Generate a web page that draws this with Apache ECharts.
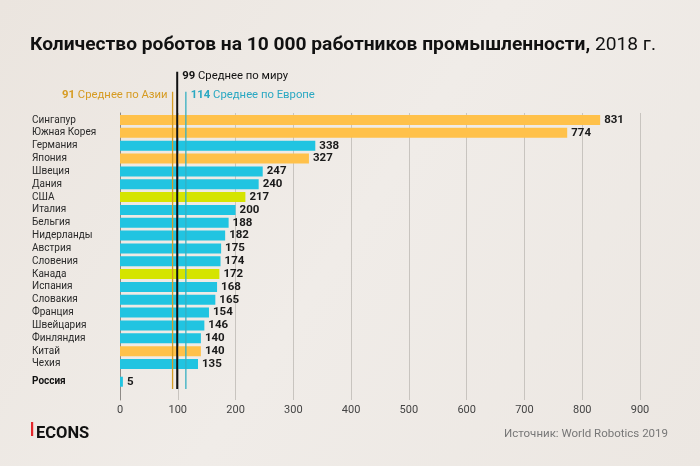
<!DOCTYPE html>
<html>
<head>
<meta charset="utf-8">
<script src="https://cdn.jsdelivr.net/npm/echarts@6/dist/echarts.min.js"></script>
<style>
html,body{margin:0;padding:0;background:#eee9e4;}
#c{width:700px;height:466px;}
</style>
</head>
<body>
<div id="c"></div>
<script>
const categories = ['Сингапур','Южная Корея','Германия','Япония','Швеция','Дания','США','Италия','Бельгия','Нидерланды','Австрия','Словения','Канада','Испания','Словакия','Франция','Швейцария','Финляндия','Китай','Чехия'];
const values = [831,774,338,327,247,240,217,200,188,182,175,174,172,168,165,154,146,140,140,135];
const regions = ['asia','asia','europe','asia','europe','europe','america','europe','europe','europe','europe','europe','america','europe','europe','europe','europe','europe','asia','europe'];
const russiaCategory = ['Россия'];
const russiaValues = [5];
const avgLabels = ['Среднее по Азии','Среднее по миру','Среднее по Европе'];
const avgValues = [91, 99, 114];
const xMin = 0, xMax = 900, xInterval = 100;

const regionColors = {asia:'#ffc14a', europe:'#21c4e1', america:'#d5e400'};
const avgColors = ['#d69b22','#111111','#35afc2'];
const avgTextColors = ['#d69b22','#111111','#2aa8c2'];
const FONT = 'Roboto, "Noto Sans", sans-serif';

const chart = echarts.init(document.getElementById('c'));

const valueLabel = {show:true, position:'right', distance:4, color:'#1a1a1a', fontWeight:'bold', fontSize:11.5, fontFamily:FONT};

function avgSeries(i, topFrac, labelPos, offset){
  return {
    type:'line', xAxisIndex:3, yAxisIndex:3, z:10,
    symbol:'circle', symbolSize:0, showSymbol:true,
    lineStyle:{color:avgColors[i], width: i===1 ? 2 : 1.3},
    silent:true, animation:false,
    data:[
      {value:[avgValues[i], topFrac], label:{
        show:true, position:labelPos, distance:5, offset:offset,
        formatter:'{b|' + avgValues[i] + '} ' + avgLabels[i],
        color:avgTextColors[i], fontSize:11.3, fontFamily:FONT,
        rich:{b:{fontWeight:'bold', fontSize:11.3, color:avgTextColors[i], fontFamily:FONT}}
      }},
      {value:[avgValues[i], 0], label:{show:false}}
    ]
  };
}

chart.setOption({
  backgroundColor:{type:'linear', x:0, y:0, x2:1, y2:1, colorStops:[{offset:0,color:'#ebe5df'},{offset:0.5,color:'#f0ece8'},{offset:1,color:'#ece7e2'}]},
  animation:false,
  textStyle:{fontFamily:FONT},
  title:[
    {text:'{b|Количество роботов на 10 000 работников промышленности,} 2018 г.', left:25, top:31,
     textStyle:{fontSize:19.2, fontWeight:'normal', color:'#111', fontFamily:FONT, rich:{b:{fontSize:19.2, fontWeight:'bold', color:'#111', fontFamily:FONT}}}},
    {text:'ECONS', left:31, top:420, textStyle:{fontSize:16.5, fontWeight:'bold', color:'#111', fontFamily:FONT}},
    {text:'Источник: World Robotics 2019', right:27, top:423, textStyle:{fontSize:11.5, fontWeight:'normal', color:'#777', fontFamily:FONT}}
  ],
  graphic:[{type:'rect', shape:{x:31, y:422, width:2.2, height:14}, style:{fill:'#e3262b'}}],
  grid:[
    {left:120, right:60, top:113, bottom:66},
    {left:120, right:60, top:113.6, height:256.8},
    {left:120, right:60, top:375.3, height:12.84},
    {left:120, right:60, top:71.7, bottom:77}
  ],
  xAxis:[
    {gridIndex:0, type:'value', min:xMin, max:xMax, interval:xInterval,
     axisLine:{show:false}, axisTick:{show:false},
     splitLine:{show:true, lineStyle:{color:'#c8c4bf', width:1}},
     axisLabel:{color:'#444', fontSize:11, margin:5, fontFamily:FONT}},
    {gridIndex:1, type:'value', min:xMin, max:xMax, show:false},
    {gridIndex:2, type:'value', min:xMin, max:xMax, show:false},
    {gridIndex:3, type:'value', min:xMin, max:xMax, show:false}
  ],
  yAxis:[
    {gridIndex:0, type:'value', min:0, max:1, axisLabel:{show:false}, splitLine:{show:false}, axisTick:{show:false},
     axisLine:{show:true, lineStyle:{color:'#8e8a86', width:1}}},
    {gridIndex:1, type:'category', data:categories, inverse:true,
     axisLine:{show:false}, axisTick:{show:false},
     axisLabel:{interval:0, align:'left', margin:88, color:'#2a2a2a', fontSize:10, fontFamily:FONT}},
    {gridIndex:2, type:'category', data:russiaCategory,
     axisLine:{show:false}, axisTick:{show:false},
     axisLabel:{interval:0, align:'left', margin:88, color:'#111', fontSize:10, fontWeight:'bold', fontFamily:FONT}},
    {gridIndex:3, type:'value', min:0, max:1, show:false}
  ],
  series:[
    {type:'bar', xAxisIndex:1, yAxisIndex:1, barWidth:10, z:2,
     data:values.map((v,i)=>({value:v, itemStyle:{color:regionColors[regions[i]]}})),
     label:valueLabel},
    {type:'bar', xAxisIndex:2, yAxisIndex:2, barWidth:10, z:2,
     data:russiaValues.map(v=>({value:v, itemStyle:{color:regionColors.europe}})),
     label:valueLabel},
    avgSeries(0, 0.937, 'left', [0,3]),
    avgSeries(1, 1, 'right', [0,4]),
    avgSeries(2, 0.937, 'right', [0,3])
  ]
});
</script>
</body>
</html>
